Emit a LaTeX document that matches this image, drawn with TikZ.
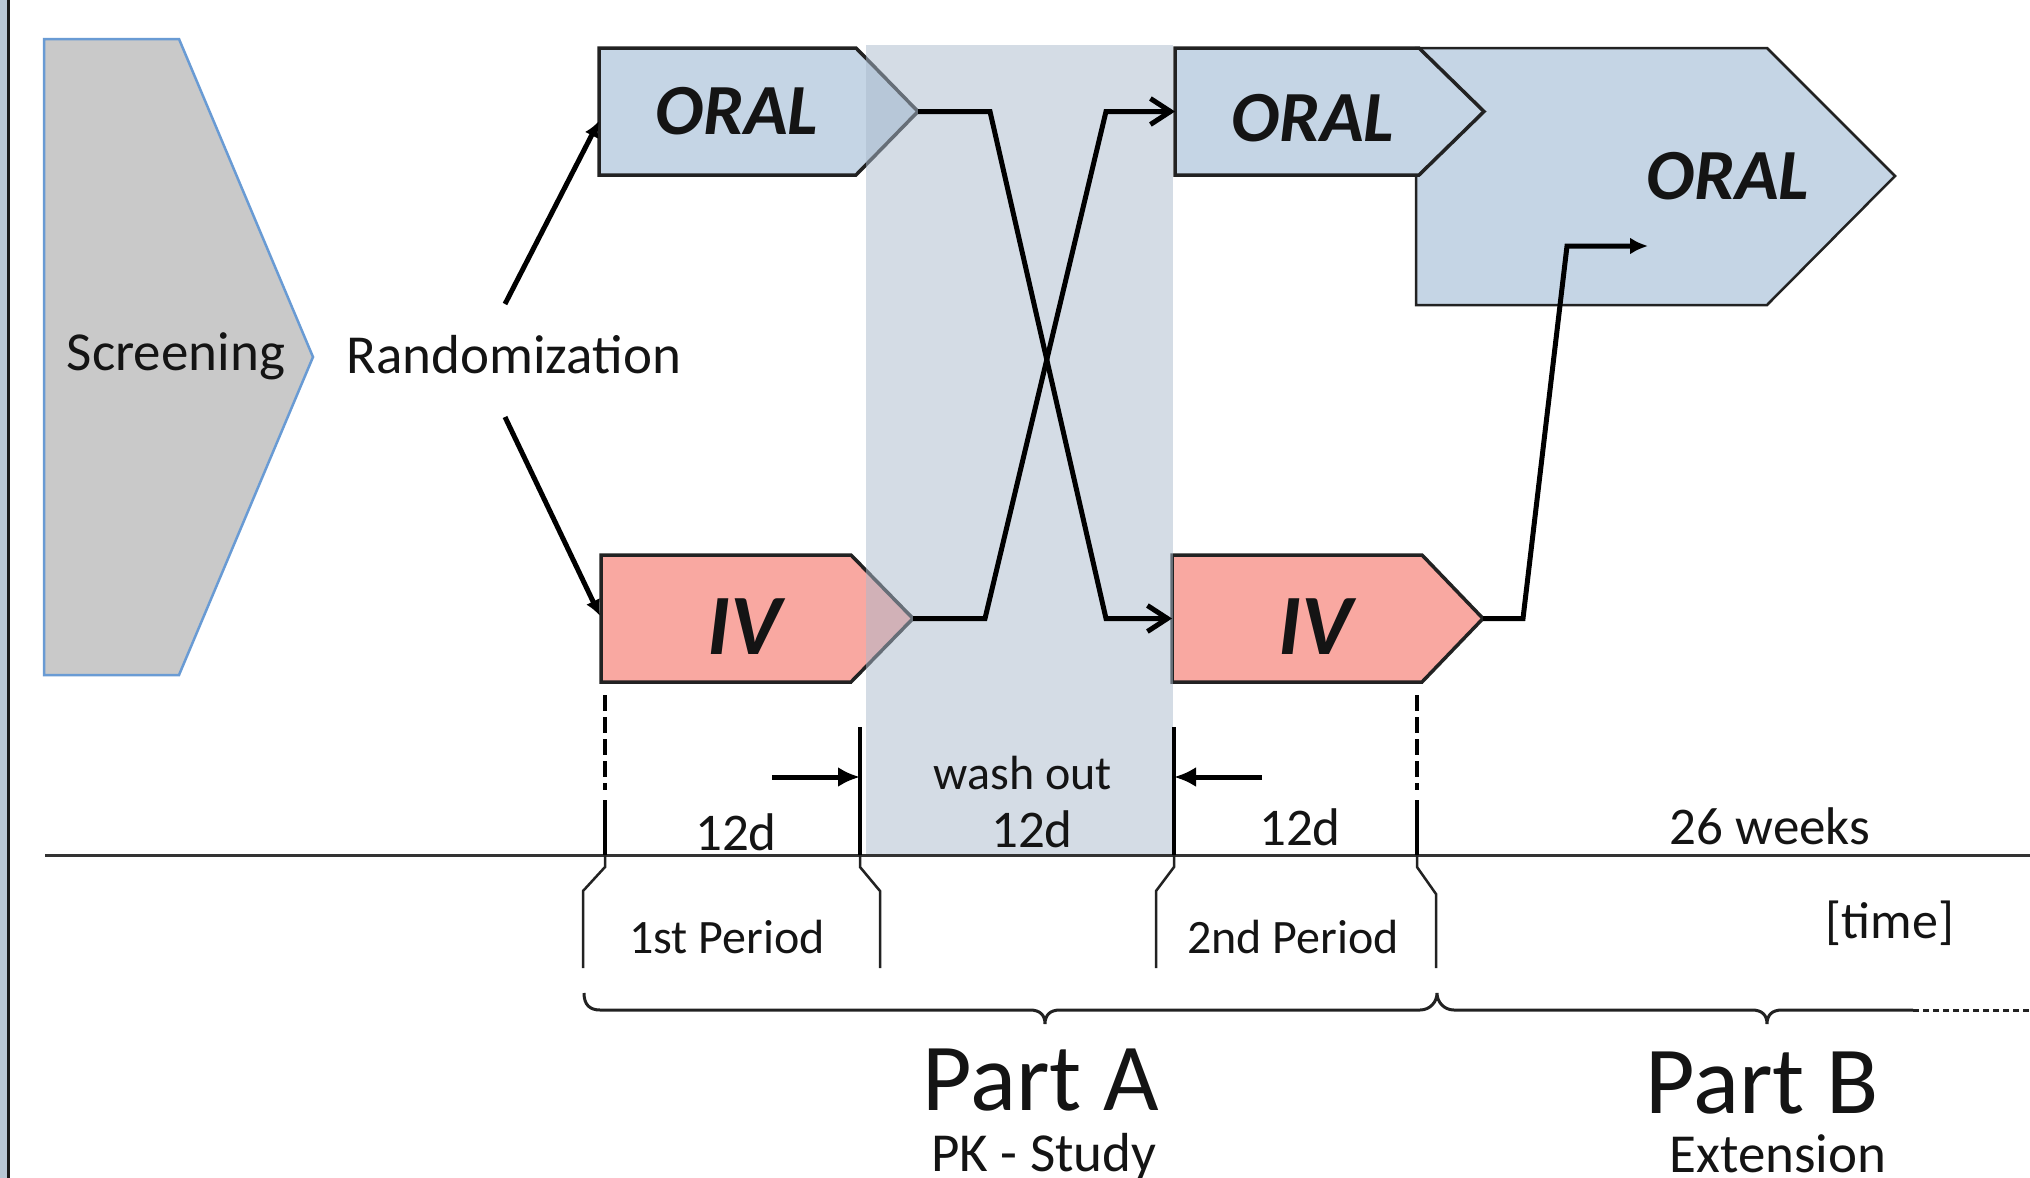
\documentclass[tikz,border=0pt]{standalone}
\usepackage{fontspec}
\setmainfont{Carlito}
\usetikzlibrary{arrows.meta}
\definecolor{oralfill}{RGB}{197,213,229}
\definecolor{ivfill}{RGB}{249,168,161}
\definecolor{scrfill}{RGB}{201,201,201}
\definecolor{scredge}{RGB}{105,155,212}
\definecolor{bandfill}{RGB}{171,187,205}
\definecolor{leftbar}{RGB}{184,198,212}
\definecolor{outl}{RGB}{34,34,34}
\definecolor{txt}{RGB}{20,20,20}
\begin{document}
\begin{tikzpicture}[x=1pt,y=-1pt,
  box/.style={draw=outl,line width=3.5pt,line join=miter},
  conn/.style={line width=5pt,black,line join=miter},
  thin/.style={line width=2.5pt,outl},
  lbl/.style={anchor=base,inner sep=0pt,text=txt},
  f48/.style={font=\fontsize{48pt}{52pt}\selectfont},
  f52/.style={font=\fontsize{52pt}{56pt}\selectfont},
  f53/.style={font=\fontsize{53pt}{58pt}\selectfont},
  f55/.style={font=\fontsize{55pt}{60pt}\selectfont},
  f96/.style={font=\fontsize{96pt}{100pt}\selectfont},
  foral/.style={font=\fontsize{72pt}{76pt}\selectfont\bfseries\itshape},
  fiv/.style={font=\fontsize{86pt}{90pt}\selectfont\bfseries\itshape},
  fatarrow/.style={-{Latex[length=22pt,width=20pt]}},
  openarrow/.style={-{Straight Barb[length=20pt,width=26pt]}},
  perdash/.style={line width=4.5pt,dash pattern=on 16pt off 6pt}
]
\useasboundingbox (0,0) rectangle (2030,1178);
\clip (0,0) rectangle (2030,1178);
\fill[white] (0,0) rectangle (2030,1178);

% left border strip
\fill[leftbar] (0,0) rectangle (7,1178);
\draw[line width=2.5pt,black!90] (8.5,0) -- (8.5,1178);

% Screening
\path[draw=scredge,line width=2.5pt,fill=scrfill,line join=miter]
  (44,39) -- (179,39) -- (313,357) -- (179,675) -- (44,675) -- cycle;
\node[lbl,f55] (screening) at (176,370) {Screening};
\node[lbl,f55,anchor=base west] (rand) at (346,373) {Randomization};

% coordinates for connectors
\coordinate (randup) at (505,304);
\coordinate (randdn) at (505,417);
\coordinate (o1w) at (599,121);
\coordinate (iv1w) at (600,616);
\coordinate (o1tip) at (918,111.5);
\coordinate (iv1tip) at (913,618.5);
\coordinate (o2w) at (1175,111.5);
\coordinate (iv2w) at (1172,618.5);
\coordinate (iv2tip) at (1483,618.5);
\coordinate (o3in) at (1648,246);

% ORAL 3 (behind)
\path[box,line width=2.5pt,fill=oralfill] (1416,305) -- (1416,48) -- (1767,48) -- (1895,176) -- (1767,305) -- cycle;
% ORAL 2
\path[box,fill=oralfill] (1175,48) -- (1419,48) -- (1484,111.5) -- (1419,175) -- (1175,175) -- cycle;
% ORAL 1
\path[box,fill=oralfill] (599,48) -- (856,48) -- (918,111.5) -- (856,175) -- (599,175) -- cycle;
% IV 1
\path[box,fill=ivfill] (601,555) -- (851,555) -- (913,618.5) -- (851,682) -- (601,682) -- cycle;
% IV 2
\path[box,fill=ivfill] (1172,555) -- (1422,555) -- (1483,618.5) -- (1422,682) -- (1172,682) -- cycle;

\node[lbl,foral] (oral1) at (737,134) {ORAL};
\node[lbl,foral] (oral2) at (1313,141) {ORAL};
\node[lbl,foral] (oral3) at (1728,199) {ORAL};
\node[lbl,fiv] (iv1) at (744,654) {IV};
\node[lbl,fiv] (iv2) at (1315,654) {IV};

% wash-out band
\fill[bandfill,opacity=0.5] (866,45) rectangle (1173,855);

% randomization arrows
\draw[conn,-{Latex[length=16pt,width=15pt]}] (randup) -- (o1w);
\draw[conn,-{Latex[length=16pt,width=15pt]}] (randdn) -- (iv1w);

% crossover
\draw[conn,openarrow] (o1tip) -- (990,111.5) -- (1106,618.5) -- (iv2w);
\draw[conn,openarrow] (iv1tip) -- (985,618.5) -- (1106,111.5) -- (o2w);

% to extension
\draw[conn,-{Latex[length=18pt,width=17pt]}] (iv2tip) -- (1523,618.5) -- (1567,246) -- (o3in);

% timeline
\draw[line width=3pt,black!80] (45,855) -- (2030,855);

% period markers
\draw[perdash] (605,695) -- (605,790);
\draw[line width=4.5pt] (605,800) -- (605,855);
\draw[perdash] (1417,695) -- (1417,790);
\draw[line width=4.5pt] (1417,800) -- (1417,855);
\draw[line width=4.5pt] (860,727) -- (860,855);
\draw[line width=4.5pt] (1174,727) -- (1174,855);

\coordinate (wl) at (860,777);
\coordinate (wr) at (1174,777);
\coordinate (wla) at (772,777);
\coordinate (wra) at (1262,777);
\draw[line width=5pt,fatarrow] (wla) -- (wl);
\draw[line width=5pt,fatarrow] (wra) -- (wr);

% period brackets
\draw[thin] (605,855) -- (605,867) -- (583,891) -- (583,968);
\draw[thin] (860,855) -- (860,867) -- (880,891) -- (880,968);
\draw[thin] (1174,855) -- (1174,867) -- (1156,891) -- (1156,968);
\draw[thin] (1417,855) -- (1417,867) -- (1436,894) -- (1436,968);

% braces
\draw[thin,line width=3pt]
  (584,993) .. controls (584,1005) and (590,1010) .. (600,1010)
  -- (1030,1010) .. controls (1040,1010) and (1045,1015) .. (1045,1024)
  .. controls (1045,1015) and (1050,1010) .. (1060,1010)
  -- (1420,1010) .. controls (1430,1010) and (1437,1002) .. (1437,993)
  .. controls (1437,1002) and (1444,1010) .. (1454,1010)
  -- (1752,1010) .. controls (1762,1010) and (1767,1015) .. (1767,1024)
  .. controls (1767,1015) and (1772,1010) .. (1782,1010)
  -- (1913,1010);
\draw[line width=3pt,outl,dash pattern=on 6pt off 4pt] (1913,1010) -- (2030,1010);

% labels
\node[lbl,f48] (wash) at (1023,789) {wash out};
\node[lbl,f53] (d1) at (736,850) {12d};
\node[lbl,f53] (d2) at (1032,847) {12d};
\node[lbl,f53] (d3) at (1300,845) {12d};
\node[lbl,f53] (w26) at (1770,844) {26 weeks};
\node[lbl,f48] (p1) at (727,953) {1st Period};
\node[lbl,f48] (p2) at (1293,953) {2nd Period};
\node[lbl,f52] (time) at (1890,938) {[time]};
\node[lbl,f96] (partA) at (1041,1110) {Part A};
\node[lbl,f55] (pk) at (1044,1171) {PK - Study};
\node[lbl,f96] (partB) at (1762,1113) {Part B};
\node[lbl,f55] (ext) at (1778,1172) {Extension};
\end{tikzpicture}
\end{document}
